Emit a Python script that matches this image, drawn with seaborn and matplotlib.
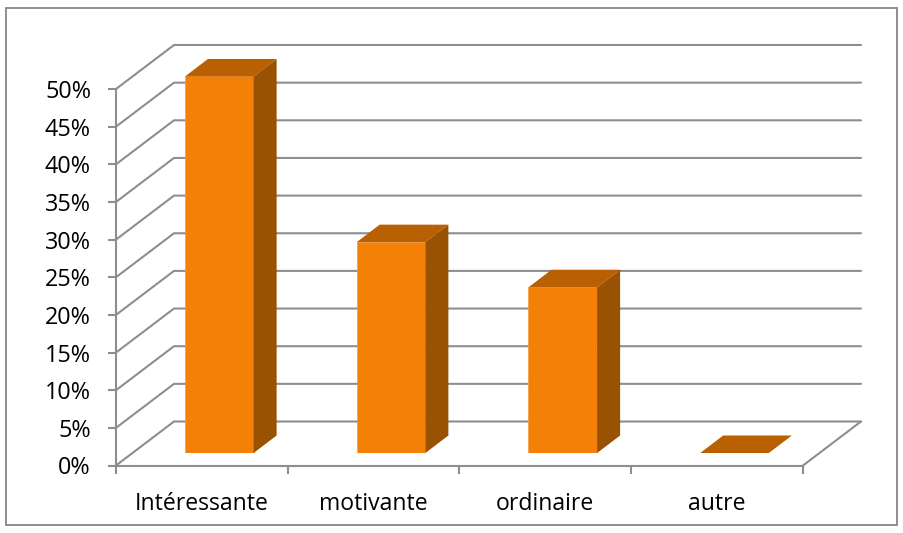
import matplotlib
matplotlib.use('Agg')
import matplotlib.pyplot as plt
from matplotlib.patches import Polygon, Rectangle
import pandas as pd
import seaborn as sns

categories = ['Intéressante', 'motivante', 'ordinaire', 'autre']
values = [50, 28, 22, 0]
y_ticks = [0, 5, 10, 15, 20, 25, 30, 35, 40, 45, 50]
y_labels = ['0%', '5%', '10%', '15%', '20%', '25%', '30%', '35%', '40%', '45%', '50%']

FRONT = '#F58007'
TOP = '#B96002'
SIDE = '#995102'
GRID = '#8E8E8E'

W, H = 904, 533
sns.set_theme(style='white')
plt.rcParams['font.family'] = ['Open Sans', 'DejaVu Sans']

fig = plt.figure(figsize=(W / 100, H / 100), dpi=100)


def axes_box(left, right, top, bottom):
    return [left / W, 1 - bottom / H, (right - left) / W, (bottom - top) / H]


# main axes: front plane of the 3D box
ax = fig.add_axes(axes_box(116, 803, 89, 465.5))
ax.set_xlim(-0.5, 3.5)
ax.set_ylim(0, 50)
px_x = 4 / (803 - 116)
px_y = 50 / (465.5 - 89)

# walls and floor
back_x = 58 * px_x
back_y = 44 * px_y
for t in y_ticks:
    ax.plot([-0.5, -0.5 + back_x, 3.5 + back_x], [t, t + back_y, t + back_y],
            color=GRID, lw=1.5, clip_on=False, zorder=1, solid_joinstyle='miter')
ax.plot([3.5, 3.5 + back_x], [0, back_y], color=GRID, lw=1.5, clip_on=False, zorder=1)

ax.set_yticks(y_ticks)
ax.set_yticklabels(y_labels)
ax.set_xticks([-0.5, 0.5, 1.5, 2.5, 3.5])
ax.set_xticklabels([])
ax.set_xticks(range(4), categories, minor=True)
ax.tick_params(axis='both', which='major', length=6, width=1.5, color=GRID,
               left=True, bottom=True, labelsize=16.8, labelcolor='black', pad=12)
ax.tick_params(axis='x', which='minor', length=0, labelsize=16.6, labelcolor='black', pad=19)
for lab in ax.get_yticklabels():
    lab.set_y(lab.get_position()[1])
sns.despine(ax=ax)
for side in ['left', 'bottom']:
    ax.spines[side].set_color(GRID)
    ax.spines[side].set_linewidth(1.5)
ax.patch.set_alpha(0)

# bars sit a bit inside the box, so they get their own shifted axes
bar_ax = fig.add_axes(axes_box(116 + 17.4, 803 + 17.4, 89 - 12.5, 465.5 - 12.5))
df = pd.DataFrame({'categorie': categories, 'valeur': values})
sns.barplot(data=df, x='categorie', y='valeur', color=FRONT, saturation=1, width=0.4,
            edgecolor='#F79A40', linewidth=0.5, ax=bar_ax, zorder=3)
bar_ax.set_xlim(-0.5, 3.5)
bar_ax.set_ylim(0, 50)
bar_ax.axis('off')

depth_x = 23 * px_x
depth_y = 17.5 * px_y
for i, v in enumerate(values):
    x0 = i - 0.2
    x1 = i + 0.2
    top = [(x0, v), (x1, v), (x1 + depth_x, v + depth_y), (x0 + depth_x, v + depth_y)]
    bar_ax.add_patch(Polygon(top, color=TOP, lw=0, clip_on=False, zorder=3))
    if v > 0:
        side = [(x1, 0), (x1 + depth_x, depth_y), (x1 + depth_x, v + depth_y), (x1, v)]
        bar_ax.add_patch(Polygon(side, color=SIDE, lw=0, clip_on=False, zorder=3))

# chart border
fig.add_artist(Rectangle((6.5 / W, 1 - 525 / H), (897 - 6.5) / W, (525 - 8) / H,
                         transform=fig.transFigure, fill=False, edgecolor='#868686', lw=1.3))

plt.savefig('out.png', dpi=100)
plt.close()
